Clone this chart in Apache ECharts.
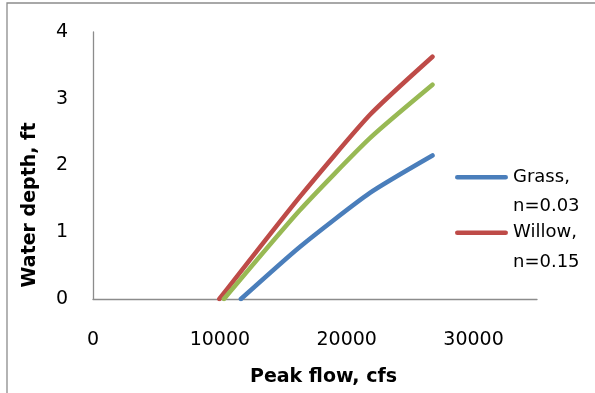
<!DOCTYPE html>
<html>
<head>
<meta charset="utf-8">
<script src="https://cdn.jsdelivr.net/npm/echarts@6/dist/echarts.min.js"></script>
<style>html,body{margin:0;padding:0;background:#fff}#c{width:595px;height:393px}</style>
</head>
<body>
<div id="c"></div>
<script>
var seriesNames = ['Grass,\nn=0.03', 'Willow,\nn=0.15', 'Series3'];
var grassFlow = [11660, 16300, 21830, 26760];
var grassDepth = [0, 0.78, 1.59, 2.15];
var willowFlow = [9960, 16300, 21830, 26760];
var willowDepth = [0, 1.53, 2.76, 3.63];
var thirdFlow = [10320, 16300, 21830, 26760];
var thirdDepth = [0, 1.33, 2.41, 3.21];
var xTitle = 'Peak flow, cfs';
var yTitle = 'Water depth, ft';
var colors = ['#4A7EBB', '#BE4B48', '#98B954'];

function pairs(xs, ys) { return xs.map(function (x, i) { return [x, ys[i]]; }); }

var font = 'DejaVu Sans';
var iconPath = 'path://M2.3,0 L50.7,0 A2.3,2.3 0 0 1 50.7,4.6 L2.3,4.6 A2.3,2.3 0 0 1 2.3,0 Z M0,34 L0.01,34 L0,34.01 Z';
function legendFor(name, top) {
  return {
    data: [name], orient: 'vertical', left: 455, top: top, padding: 0,
    itemWidth: 53, itemHeight: 34, icon: iconPath,
    textStyle: {color: '#000', fontFamily: font, fontSize: 18, lineHeight: 29.5}
  };
}
var chart = echarts.init(document.getElementById('c'), null, {renderer: 'canvas'});
var lineSeries = function (name, data, color) {
  return {
    name: name, type: 'line', data: data, smooth: 0.2,
    symbol: 'none', showSymbol: false,
    lineStyle: {color: color, width: 4.6, cap: 'round', join: 'round'},
    itemStyle: {color: color}
  };
};
chart.setOption({
  animation: false,
  backgroundColor: '#fff',
  grid: {left: 93, top: 32, right: 58, bottom: 94, containLabel: false},
  xAxis: {
    type: 'value', min: 0, max: 35000, interval: 10000,
    axisLine: {show: true, lineStyle: {color: '#8C8C8C', width: 1.3}},
    axisTick: {show: false},
    splitLine: {show: false},
    axisLabel: {show: true, margin: 32, showMaxLabel: false, color: '#000', fontFamily: font, fontSize: 19,
      formatter: function (v) { return String(v); }}
  },
  yAxis: {
    type: 'value', min: 0, max: 4, interval: 1,
    axisLine: {show: true, lineStyle: {color: '#8C8C8C', width: 1.3}},
    axisTick: {show: false},
    splitLine: {show: false},
    axisLabel: {margin: 25, color: '#000', fontFamily: font, fontSize: 19}
  },
  legend: [legendFor(seriesNames[0], 162.5), legendFor(seriesNames[1], 218)],
  graphic: [
    {type: 'rect', shape: {x: 7, y: 3, width: 620, height: 420}, style: {fill: 'none', stroke: '#8C8C8C', lineWidth: 1.3}, silent: true},
    {type: 'text', x: 30, y: 205, rotation: Math.PI / 2, style: {text: yTitle, font: 'bold 19px "DejaVu Sans"', fill: '#000', align: 'center', verticalAlign: 'middle'}},
    {type: 'text', x: 323.5, y: 376.7, style: {text: xTitle, font: 'bold 19px "DejaVu Sans"', fill: '#000', align: 'center', verticalAlign: 'middle'}}
  ],
  series: [
    lineSeries(seriesNames[0], pairs(grassFlow, grassDepth), colors[0]),
    lineSeries(seriesNames[1], pairs(willowFlow, willowDepth), colors[1]),
    lineSeries(seriesNames[2], pairs(thirdFlow, thirdDepth), colors[2])
  ]
});
</script>
</body>
</html>
